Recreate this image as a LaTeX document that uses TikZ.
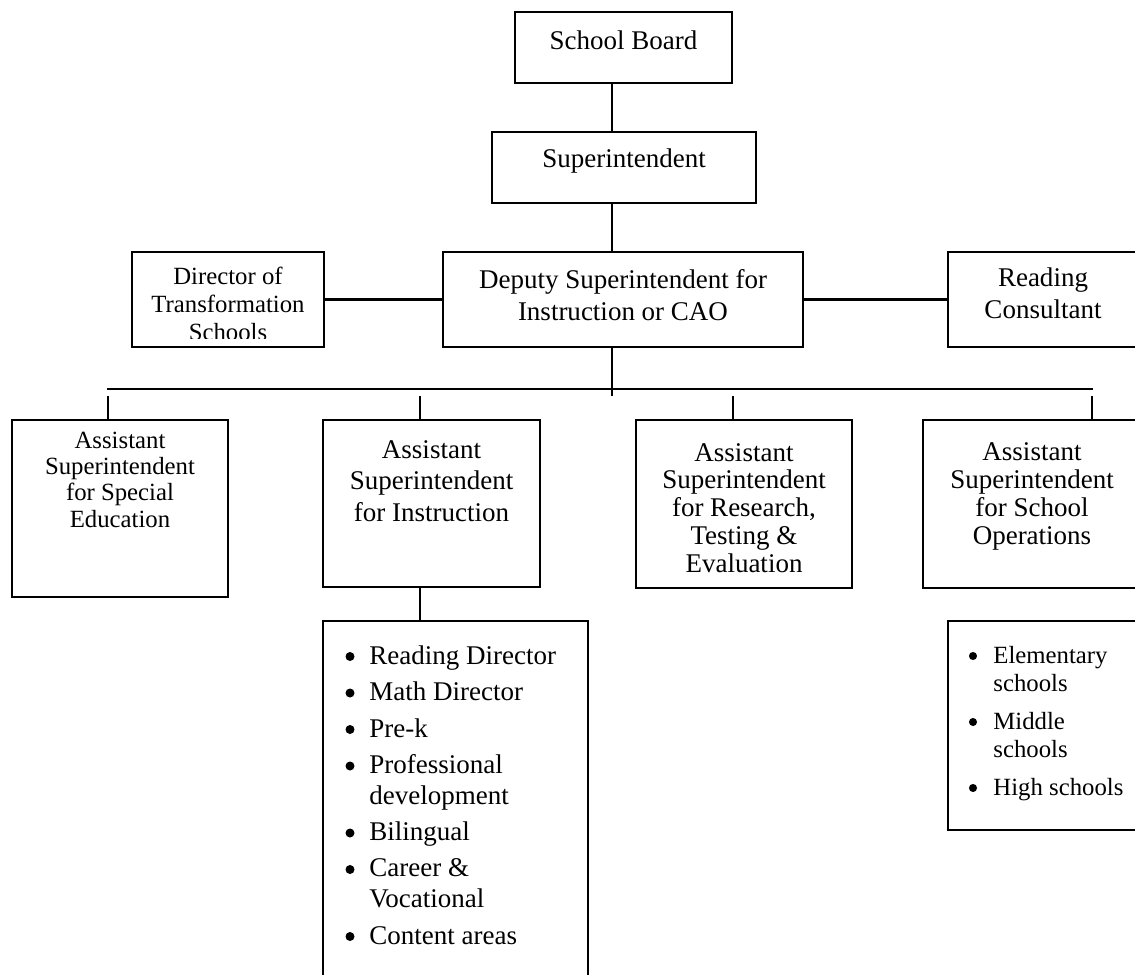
\documentclass[tikz,border=0pt]{standalone}
\usepackage{fontspec}
\setmainfont{Liberation Serif}
\usetikzlibrary{fit}
\begin{document}
\begin{tikzpicture}[x=0.4444pt,y=-0.4444pt,
  box/.style={draw, line width=0.9pt, inner sep=0pt},
  conn/.style={line width=0.9pt},
  lg/.style={font=\fontsize{12}{13.8}\selectfont, align=center, inner sep=0pt, anchor=base},
  lgt/.style={font=\fontsize{12}{12.3}\selectfont, align=center, inner sep=0pt, anchor=base},
  sm/.style={font=\fontsize{11}{12.4}\selectfont, align=center, inner sep=0pt, anchor=base},
  smt/.style={font=\fontsize{11}{11.6}\selectfont, align=center, inner sep=0pt, anchor=base},
  itemL/.style={font=\fontsize{12}{13.6}\selectfont, align=left, inner sep=0pt, anchor=base west},
  itemS/.style={font=\fontsize{11}{12.4}\selectfont, align=left, inner sep=0pt, anchor=base west},
  dot/.style={circle, fill, inner sep=0pt, minimum size=4pt}]
\useasboundingbox (0,0) rectangle (1135,975);
\fill[white] (0,0) rectangle (1135,975);

% boxes
\node[box, fit={(515,12)(732,83)}] (sb) {};
\node[box, fit={(492,132)(756,203)}] (sup) {};
\node[box, fit={(443,252)(803,347)}] (dep) {};
\node[box, fit={(132,252)(324,347)}] (dir) {};
\node[box, fit={(948,252)(1150,347)}] (rc) {};
\node[box, fit={(12,420)(228,597)}] (se) {};
\node[box, fit={(323,420)(540,587)}] (ins) {};
\node[box, fit={(636,420)(852,588)}] (rte) {};
\node[box, fit={(923,420)(1150,588)}] (ops) {};
\node[box, fit={(323,621)(588,1000)}] (ilist) {};
\node[box, fit={(948,621)(1150,830)}] (olist) {};

% connector coordinates
\coordinate (spine) at (612,396);
\coordinate (busL) at (107,389);
\coordinate (busR) at (1093,389);
\coordinate (d1) at (108,396);
\coordinate (d2) at (420,396);
\coordinate (d3) at (733,396);
\coordinate (d4) at (1092,396);

% connectors
\draw[conn] (sb.south -| spine) -- (sup.north -| spine);
\draw[conn] (sup.south -| spine) -- (dep.north -| spine);
\draw[conn] (dir.east) -- (dep.west);
\draw[conn] (dep.east) -- (rc.west);
\draw[conn] (dep.south -| spine) -- (spine);
\draw[conn] (busL) -- (busR);
\draw[conn] (d1) -- (se.north -| d1);
\draw[conn] (d2) -- (ins.north -| d2);
\draw[conn] (d3) -- (rte.north -| d3);
\draw[conn] (d4) -- (ops.north -| d4);
\draw[conn] (ins.south -| d2) -- (ilist.north -| d2);

% texts (base anchor = baseline of last line)
\node[lg] (sbt) at (623.5,49) {School Board};
\node[lg] (supt) at (624,167) {Superintendent};
\node[lg] (dept) at (623,320) {Deputy Superintendent for\\Instruction or CAO};
\begin{scope}
  \clip (132,252) rectangle (324,338);
  \node[sm] (dirt) at (228,340) {Director of\\Transformation\\Schools};
\end{scope}
\node[lg] (rct) at (1043,318) {Reading\\Consultant};
\node[smt] (set) at (120,527) {Assistant\\Superintendent\\for Special\\Education};
\node[lg] (inst) at (431.5,521) {Assistant\\Superintendent\\for Instruction};
\node[lgt] (rtet) at (744,572) {Assistant\\Superintendent\\for Research,\\Testing \&\\Evaluation};
\node[lgt] (opst) at (1032,544) {Assistant\\Superintendent\\for School\\Operations};

% instruction list
\foreach \b/\l/\t [count=\i] in {664/664/{Reading Director}, 700.5/700.5/{Math Director}, 737/737/{Pre-k},
  773.5/804/{Professional\\development}, 840.5/840.5/{Bilingual}, 877/907.5/{Career \&\\Vocational}, 944/944/{Content areas}}{
  \node[dot] (ib\i) at (350,\b-7.5) {};
  \node[itemL] (it\i) at (369,\l) {\t};
}
% operations list
\foreach \b/\l/\t [count=\i] in {663/691/{Elementary\\schools}, 729/757/{Middle\\schools}, 795/795/{High schools}}{
  \node[dot, minimum size=3.6pt] (ob\i) at (973,\b-7) {};
  \node[itemS] (ot\i) at (993,\l) {\t};
}
\end{tikzpicture}
\end{document}
